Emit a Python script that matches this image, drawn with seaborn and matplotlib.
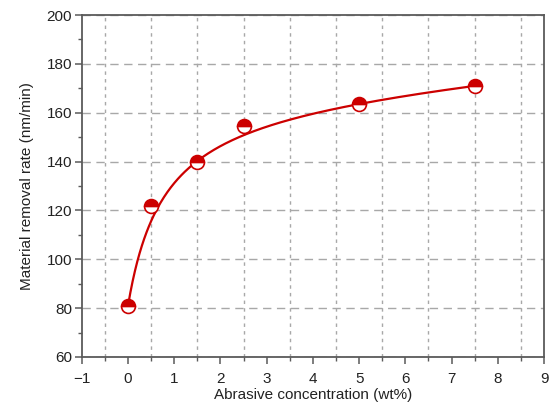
import numpy as np
import pandas as pd
import matplotlib
matplotlib.use("Agg")
import matplotlib.pyplot as plt
from matplotlib.ticker import MultipleLocator
import seaborn as sns

# Data
concentration = [0, 0.5, 1.5, 2.5, 5, 7.5]
removal_rate = [81, 122, 140, 154.5, 163.5, 171]
x_label = "Abrasive concentration (wt%)"
y_label = "Material removal rate (nm/min)"

sns.set_theme(style="white")
plt.rcParams["font.family"] = ["Liberation Sans", "DejaVu Sans"]
plt.rcParams["axes.unicode_minus"] = True

red = "#cc0000"
spine_col = "#5a5a5a"
text_col = "#222222"

# Smooth fitted trend y = a + b*x/(K + x) + d*x (weighted least squares)
fit_weights = np.array([1.0, 0.12, 1.0, 0.25, 1.0, 1.0])
xd = np.asarray(concentration, float)
yd = np.asarray(removal_rate, float)
best = None
for K in np.linspace(0.05, 5.0, 991):
    A = np.column_stack([np.ones_like(xd), xd / (K + xd), xd])
    Aw = A * fit_weights[:, None]
    coef, *_ = np.linalg.lstsq(Aw, yd * fit_weights, rcond=None)
    err = np.sum(((A @ coef - yd) * fit_weights) ** 2)
    if best is None or err < best[0]:
        best = (err, K, coef)
_, K_fit, (a_fit, b_fit, d_fit) = best
print(K_fit, a_fit, b_fit, d_fit)
xs = np.linspace(xd.min(), xd.max(), 300)
ys = a_fit + b_fit * xs / (K_fit + xs) + d_fit * xs

fig = plt.figure(figsize=(5.49, 4.07), dpi=100)
ax = fig.add_axes([0.149, 0.123, 0.842, 0.840])

sns.lineplot(x=xs, y=ys, ax=ax, color=red, linewidth=1.6, zorder=3)
sns.lineplot(x=concentration, y=removal_rate, ax=ax, linestyle="", marker="o",
             markersize=10, fillstyle="top", markerfacecolor=red,
             markerfacecoloralt="white", markeredgecolor=red,
             markeredgewidth=1.2, color=red, zorder=4)

ax.set_xlim(-1, 9)
ax.set_ylim(60, 200)
ax.xaxis.set_major_locator(MultipleLocator(1))
ax.xaxis.set_minor_locator(MultipleLocator(0.5))
ax.yaxis.set_major_locator(MultipleLocator(20))
ax.yaxis.set_minor_locator(MultipleLocator(10))

ax.grid(False)
ax.grid(True, which="major", axis="y", color="#a8a8a8", linestyle=(0, (6, 4)),
        linewidth=1.0)
ax.grid(True, which="minor", axis="x", color="#a8a8a8", linestyle=(0, (2.5, 3)),
        linewidth=1.0)
ax.set_axisbelow(True)

for s in ax.spines.values():
    s.set_visible(True)
    s.set_color(spine_col)
    s.set_linewidth(1.3)

ax.tick_params(which="major", direction="out", length=5, width=1.1,
               color=spine_col, labelsize=11, labelcolor=text_col,
               bottom=True, left=True, top=False, right=False)
ax.tick_params(axis="y", which="major", pad=2)
ax.tick_params(axis="x", which="major", pad=6)
ax.tick_params(which="minor", direction="out", length=3, width=1.0,
               color=spine_col, bottom=True, left=True, top=False, right=False)

ax.set_xlabel(x_label, fontsize=11, color=text_col, labelpad=1)
ax.set_ylabel(y_label, fontsize=11, color=text_col, labelpad=9)

fig.savefig("out.png", dpi=100)
